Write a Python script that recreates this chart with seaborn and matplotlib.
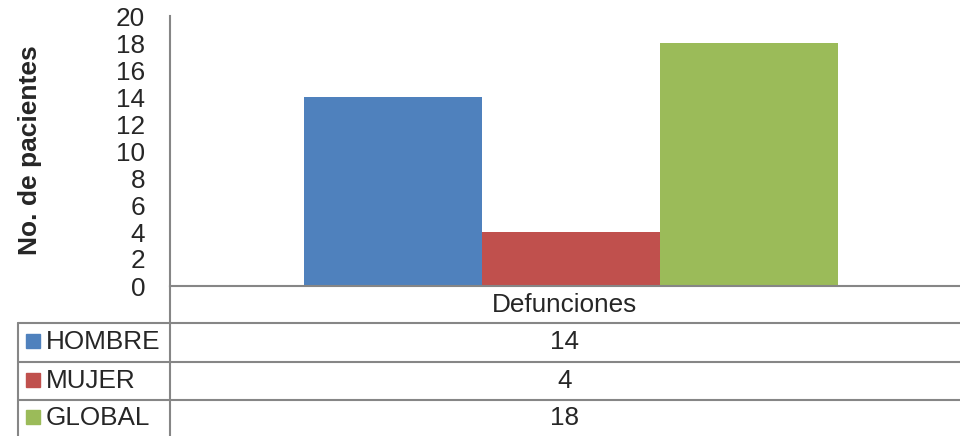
import matplotlib
matplotlib.use("Agg")
import matplotlib.pyplot as plt
from matplotlib.lines import Line2D
from matplotlib.patches import Rectangle
import seaborn as sns
import pandas as pd

# datos
categorias = ["Defunciones"]
series = ["HOMBRE", "MUJER", "GLOBAL"]
valores = [14, 4, 18]
colores = ["#4F81BD", "#C0504D", "#9BBB59"]
yticks = list(range(0, 21, 2))

df = pd.DataFrame({"cat": categorias * len(series), "serie": series, "valor": valores})

sns.set_style("white")
plt.rcParams["font.family"] = ["Liberation Sans", "DejaVu Sans"]

W, H = 960, 436
FS = 18.8
fig = plt.figure(figsize=(W / 100, H / 100), dpi=100)
ax = fig.add_axes([170 / W, 1 - 286 / H, 790 / W, 270 / H])

sns.barplot(data=df, x="cat", y="valor", hue="serie", palette=colores,
            width=0.8, saturation=1, linewidth=0, ax=ax, legend=False)

ax.set_ylim(0, 20)
ax.set_yticks(yticks)
ax.set_yticklabels([str(t) for t in yticks], fontsize=FS)
ax.tick_params(axis="y", length=0, pad=18)
ax.set_xticks([])
ax.set_xlim(-0.60, 0.582)
ax.set_xlabel("")
ax.set_ylabel("")
for s in ["top", "right"]:
    ax.spines[s].set_visible(False)
gris = "#868686"
for s in ["left", "bottom"]:
    ax.spines[s].set_color(gris)
    ax.spines[s].set_linewidth(1.5)

fig.text(30 / W, 1 - 150 / H, "No. de pacientes", rotation=90, fontsize=19,
         fontweight="bold", ha="center", va="center")

# tabla de datos
def fy(py):
    return 1 - py / H

def linea(x0, y0, x1, y1):
    fig.add_artist(Line2D([x0 / W, x1 / W], [fy(y0), fy(y1)], color=gris, lw=1.5))

linea(170, 286, 170, 436)
linea(18, 323, 18, 436)
for py in [323, 362, 400]:
    linea(18, py, 960, py)

centro = (170 + 960) / 2
fig.text(centro / W, fy(305), categorias[0], fontsize=FS, ha="center", va="center")
filas_y = [342, 381, 418]
for nombre, v, c, py in zip(series, valores, colores, filas_y):
    fig.add_artist(Rectangle((26 / W, fy(py + 6)), 14 / W, 14 / H, color=c,
                             transform=fig.transFigure))
    fig.text(46 / W, fy(py), nombre, fontsize=FS, ha="left", va="center")
    fig.text(centro / W, fy(py), str(v), fontsize=FS, ha="center", va="center")

fig.savefig("out.png", dpi=100)
